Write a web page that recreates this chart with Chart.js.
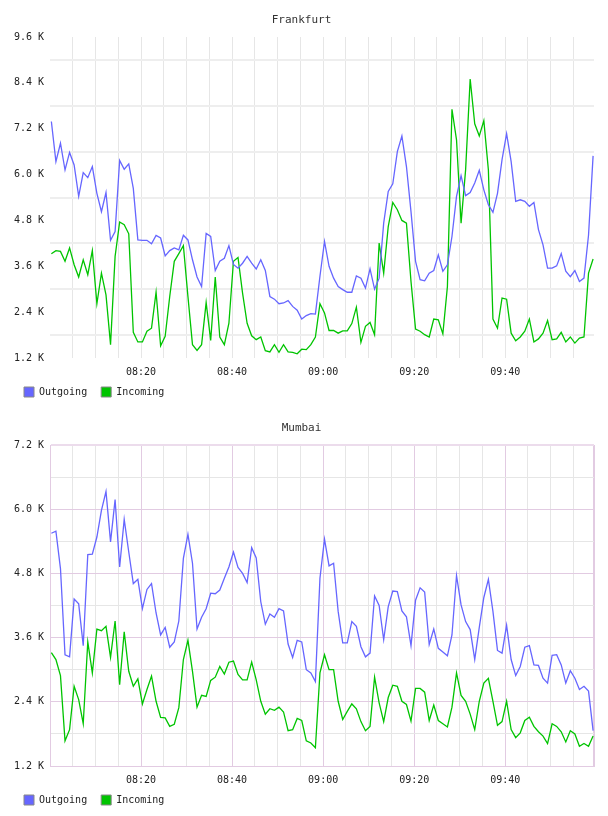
<!DOCTYPE html>
<html>
<head>
<meta charset="utf-8">
<script src="https://cdn.jsdelivr.net/npm/chart.js@4"></script>
<style>
  body { margin: 0; background: #fff; }
  canvas { display: block; }
</style>
</head>
<body>
<canvas id="frankfurt" width="608" height="408"></canvas>
<canvas id="mumbai" width="608" height="408"></canvas>
<script>
// one sample per minute, first one shortly after 08:00 (minutes after 08:00)
const firstSample = 0.3
const timeLabels = ["08:20", "08:40", "09:00", "09:20", "09:40"]
const timeLabelMinutes = [20, 40, 60, 80, 100]
const frankfurtYTicks = [1.2, 2.4, 3.6, 4.8, 6.0, 7.2, 8.4, 9.6]
const mumbaiYTicks = [1.2, 2.4, 3.6, 4.8, 6.0, 7.2]

// values in K
const frankfurtOutgoing = [
  7.39, 6.34, 6.82, 6.12, 6.58, 6.25, 5.43, 6.05, 5.92, 6.21, 5.51, 5.03, 5.53, 4.28, 4.51, 6.37, 6.14, 6.28, 5.64, 4.29,
  4.28, 4.28, 4.19, 4.41, 4.34, 3.87, 4.01, 4.08, 4.03, 4.41, 4.29, 3.77, 3.32, 3.07, 4.46, 4.38, 3.49, 3.73, 3.81, 4.14,
  3.65, 3.55, 3.68, 3.86, 3.68, 3.53, 3.77, 3.49, 2.81, 2.74, 2.62, 2.64, 2.70, 2.55, 2.45, 2.22, 2.31, 2.36, 2.35, 3.34,
  4.25, 3.60, 3.29, 3.07, 2.99, 2.92, 2.92, 3.35, 3.29, 3.03, 3.53, 3.00, 3.29, 4.73, 5.56, 5.76, 6.60, 7.01, 6.21, 5.03,
  3.73, 3.25, 3.22, 3.42, 3.49, 3.90, 3.47, 3.64, 4.38, 5.43, 5.97, 5.45, 5.53, 5.78, 6.11, 5.60, 5.21, 5.01, 5.51, 6.39,
  7.07, 6.34, 5.30, 5.34, 5.30, 5.17, 5.27, 4.56, 4.16, 3.55, 3.55, 3.61, 3.93, 3.47, 3.33, 3.49, 3.20, 3.29, 4.42, 6.49
]
const frankfurtIncoming = [
  3.93, 4.01, 3.99, 3.73, 4.08, 3.64, 3.32, 3.77, 3.38, 4.01, 2.62, 3.42, 2.85, 1.55, 3.86, 4.76, 4.69, 4.45, 1.87, 1.62,
  1.62, 1.90, 1.98, 2.92, 1.52, 1.77, 2.81, 3.73, 3.93, 4.14, 2.81, 1.55, 1.40, 1.55, 2.65, 1.66, 3.32, 1.75, 1.55, 2.11,
  3.73, 3.83, 2.90, 2.11, 1.78, 1.68, 1.75, 1.39, 1.36, 1.55, 1.35, 1.55, 1.36, 1.35, 1.31, 1.43, 1.42, 1.55, 1.75, 2.62,
  2.38, 1.92, 1.92, 1.85, 1.91, 1.91, 2.10, 2.53, 1.61, 2.03, 2.13, 1.81, 4.21, 3.42, 4.64, 5.27, 5.08, 4.80, 4.73, 3.20,
  1.96, 1.90, 1.81, 1.75, 2.22, 2.20, 1.83, 3.07, 7.71, 6.91, 4.73, 6.13, 8.50, 7.33, 7.01, 7.41, 6.12, 2.22, 1.98, 2.77,
  2.74, 1.85, 1.65, 1.75, 1.90, 2.22, 1.62, 1.70, 1.85, 2.18, 1.68, 1.70, 1.87, 1.62, 1.75, 1.59, 1.72, 1.75, 3.42, 3.79
]
const mumbaiOutgoing = [
  5.55, 5.59, 4.89, 3.28, 3.24, 4.32, 4.23, 3.45, 5.15, 5.16, 5.48, 5.98, 6.33, 5.39, 6.18, 4.92, 5.81, 5.20, 4.61, 4.69,
  4.14, 4.50, 4.61, 4.06, 3.65, 3.79, 3.42, 3.52, 3.91, 5.08, 5.53, 4.99, 3.76, 3.98, 4.14, 4.43, 4.42, 4.49, 4.71, 4.92,
  5.20, 4.91, 4.80, 4.63, 5.28, 5.09, 4.27, 3.85, 4.04, 3.98, 4.14, 4.10, 3.48, 3.23, 3.55, 3.52, 3.00, 2.94, 2.78, 4.71,
  5.44, 4.94, 4.99, 4.09, 3.50, 3.50, 3.90, 3.81, 3.43, 3.24, 3.31, 4.38, 4.20, 3.56, 4.18, 4.47, 4.46, 4.10, 3.99, 3.45,
  4.30, 4.53, 4.45, 3.47, 3.76, 3.40, 3.33, 3.26, 3.65, 4.76, 4.21, 3.90, 3.75, 3.19, 3.79, 4.35, 4.69, 4.09, 3.36, 3.31,
  3.83, 3.19, 2.89, 3.06, 3.42, 3.45, 3.09, 3.08, 2.84, 2.75, 3.27, 3.28, 3.09, 2.75, 2.98, 2.84, 2.63, 2.69, 2.60, 1.86
]
const mumbaiIncoming = [
  3.32, 3.19, 2.89, 1.67, 1.88, 2.69, 2.44, 1.99, 3.52, 2.94, 3.76, 3.73, 3.81, 3.23, 3.91, 2.72, 3.71, 2.97, 2.69, 2.83,
  2.36, 2.63, 2.88, 2.41, 2.11, 2.10, 1.94, 1.98, 2.29, 3.19, 3.55, 2.97, 2.30, 2.52, 2.50, 2.80, 2.86, 3.06, 2.92, 3.14,
  3.16, 2.91, 2.81, 2.81, 3.14, 2.81, 2.41, 2.17, 2.27, 2.24, 2.30, 2.21, 1.86, 1.88, 2.09, 2.05, 1.67, 1.63, 1.54, 2.94,
  3.28, 3.00, 3.00, 2.41, 2.07, 2.22, 2.36, 2.27, 2.03, 1.86, 1.94, 2.86, 2.38, 2.03, 2.48, 2.71, 2.69, 2.41, 2.35, 2.04,
  2.65, 2.65, 2.58, 2.05, 2.34, 2.05, 1.99, 1.93, 2.30, 2.94, 2.52, 2.41, 2.17, 1.88, 2.41, 2.75, 2.84, 2.41, 1.96, 2.03,
  2.41, 1.88, 1.73, 1.82, 2.05, 2.11, 1.94, 1.84, 1.76, 1.62, 1.99, 1.94, 1.84, 1.65, 1.86, 1.80, 1.57, 1.62, 1.57, 1.76
]

const xMax = 119.5
const BLUE = "#6666ff"
const GREEN = "#00c400"
const PINK = "#e2cbe2"
const GRAY = "#e6e6e6"

Chart.defaults.font.family = "'DejaVu Sans Mono', monospace"
Chart.defaults.font.size = 10
Chart.defaults.color = "#222"

function points(values) {
  return values.map((v, i) => ({ x: firstSample + i, y: v }))
}

// labelled ticks plus the half steps between them
function halfSteps(ticks) {
  const out = []
  ticks.forEach((t, i) => {
    out.push(t)
    if (i < ticks.length - 1) out.push(Math.round((t + ticks[i + 1]) * 5) / 10)
  })
  return out
}

// nudge the legend right without moving the y axis
const legendShift = {
  id: "legendShift",
  afterLayout(chart) { chart.legend.left += 7 }
}

function createChart(canvas, title, outgoing, incoming, yTicks, mumbaiStyle) {
  const yValues = halfSteps(yTicks)
  const xValues = []
  for (let m = mumbaiStyle ? 0 : 5; m < 120; m += 5) xValues.push(m)
  if (mumbaiStyle) xValues.push(xMax)

  return new Chart(canvas, {
    type: "line",
    data: {
      datasets: [
        { label: "Outgoing", data: points(outgoing), borderColor: BLUE, backgroundColor: BLUE,
          borderWidth: 1.3, pointRadius: 0, tension: 0 },
        { label: "Incoming", data: points(incoming), borderColor: GREEN, backgroundColor: GREEN,
          borderWidth: 1.3, pointRadius: 0, tension: 0 }
      ]
    },
    plugins: [legendShift],
    options: {
      responsive: false,
      animation: false,
      devicePixelRatio: 1,
      layout: { padding: { left: 9, right: 14, top: 0, bottom: 1 } },
      plugins: {
        title: {
          display: true,
          text: title,
          color: "#333",
          font: { size: 11, weight: "normal" },
          padding: { top: 14, bottom: 9.8 }
        },
        legend: {
          position: "bottom",
          align: "start",
          labels: {
            boxWidth: 10,
            boxHeight: 10,
            padding: 8,
            generateLabels(chart) {
              // trailing space widens the gap between the two entries
              return Chart.defaults.plugins.legend.labels.generateLabels(chart)
                .map(item => Object.assign(item, { text: item.text + " ", strokeStyle: "#888", lineWidth: 1 }))
            }
          }
        },
        tooltip: { enabled: false }
      },
      scales: {
        x: {
          type: "linear",
          min: 0,
          max: xMax,
          afterBuildTicks(scale) { scale.ticks = xValues.map(v => ({ value: v })) },
          afterFit(scale) { scale.height = 21 },
          ticks: {
            autoSkip: false,
            maxRotation: 0,
            padding: 8,
            callback(value) {
              const i = timeLabelMinutes.indexOf(value)
              return i >= 0 ? timeLabels[i] : ""
            }
          },
          grid: {
            drawTicks: false,
            color(ctx) {
              const v = ctx.tick && ctx.tick.value
              if (!mumbaiStyle) return GRAY
              return (v % 20 === 0 || v === xMax) ? PINK : GRAY
            },
            lineWidth(ctx) {
              return mumbaiStyle && ctx.tick && ctx.tick.value === xMax ? 2 : 1
            }
          },
          border: { display: mumbaiStyle, color: PINK }
        },
        y: {
          min: yTicks[0],
          max: yTicks[yTicks.length - 1],
          afterBuildTicks(scale) { scale.ticks = yValues.map(v => ({ value: v })) },
          afterFit(scale) { scale.width = 41 },
          ticks: {
            padding: 6,
            callback(value, index) {
              return index % 2 === 0 ? value.toFixed(1) + " K" : ""
            }
          },
          grid: {
            drawTicks: false,
            color(ctx) {
              const even = ctx.index % 2 === 0
              if (!mumbaiStyle) return even ? "rgba(0,0,0,0)" : "#eeeeee"
              if (ctx.index === yValues.length - 1) return "#ecdcec"
              return even ? PINK : GRAY
            },
            lineWidth(ctx) {
              if (!mumbaiStyle) return 2
              return ctx.index === yValues.length - 1 ? 2 : 1
            }
          },
          border: { display: mumbaiStyle, color: PINK }
        }
      }
    }
  })
}

createChart(document.getElementById("frankfurt"), "Frankfurt", frankfurtOutgoing, frankfurtIncoming, frankfurtYTicks, false)
createChart(document.getElementById("mumbai"), "Mumbai", mumbaiOutgoing, mumbaiIncoming, mumbaiYTicks, true)
</script>
</body>
</html>
